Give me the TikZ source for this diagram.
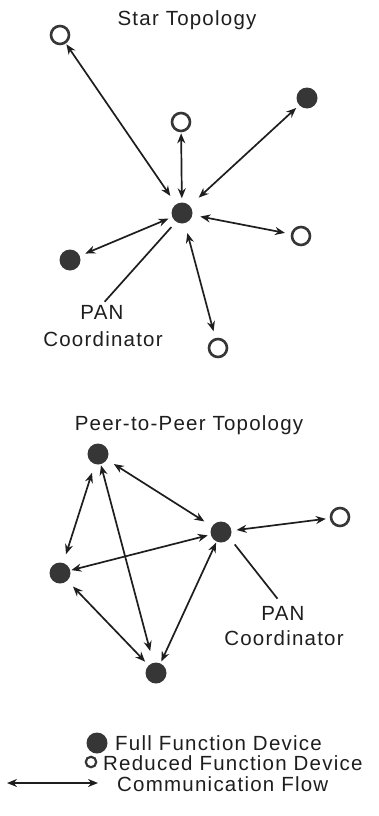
\documentclass[tikz,border=0pt]{standalone}
\usepackage{fontspec}
\setmainfont{Liberation Sans}[LetterSpace=6]
\usetikzlibrary{arrows.meta}
\definecolor{dev}{HTML}{363636}
\definecolor{ink}{HTML}{1E1E1E}
\begin{document}
\begin{tikzpicture}[x=1pt,y=-1pt,
  ffd/.style={circle,fill=dev,draw=none,minimum size=21pt,inner sep=0pt},
  rfd/.style={circle,draw=dev,line width=2.6pt,fill=white,minimum size=18pt,inner sep=0pt},
  flow/.style={{Stealth[length=10pt,width=8pt]}-{Stealth[length=10pt,width=8pt]},line width=1.7pt,draw=ink},
  lead/.style={line width=1.7pt,draw=ink},
  lbl/.style={font=\fontsize{20.5}{25}\selectfont,text=ink,inner sep=0pt}]
\useasboundingbox[fill=white] (0,0) rectangle (379,816);

% ---------- Star topology ----------
\node[lbl,anchor=base] (sttitle) at (187,26) {Star Topology};
\node[ffd] (sc) at (182,213) {};
\node[rfd] (stl) at (60,35) {};
\node[rfd] (stm) at (181,122) {};
\node[ffd] (str) at (307,98) {};
\node[rfd] (sr) at (301,236) {};
\node[ffd] (sl) at (70,260) {};
\node[rfd] (sb) at (218,348) {};

\draw[flow,shorten <=10pt,shorten >=1pt] (sc) -- (stl);
\draw[flow,shorten <=4pt,shorten >=1pt] (sc) -- (stm);
\draw[flow,shorten <=12pt,shorten >=4pt] (sc) -- (str);
\draw[flow,shorten <=8pt,shorten >=6pt] (sc) -- (sr);
\draw[flow,shorten <=4pt,shorten >=6pt] (sc) -- (sl);
\draw[flow,shorten <=10pt,shorten >=7pt] (sc) -- (sb);

\node[lbl,anchor=base] (stpan) at (102,319) {PAN};
\node[lbl,anchor=base] (stcoord) at (103,346) {Coordinator};
\draw[lead,shorten <=7pt,shorten >=4pt] (sc.236) -- (stpan.north);

% ---------- Peer-to-peer topology ----------
\node[lbl,anchor=base] (pptitle) at (189,430) {Peer-to-Peer Topology};
\node[ffd] (pa) at (98,454) {};
\node[ffd] (pb) at (221,532) {};
\node[ffd] (pc) at (60,573) {};
\node[ffd] (pd) at (156,673) {};
\node[rfd] (pe) at (340,517) {};

\draw[flow,shorten <=8pt,shorten >=9pt] (pa) -- (pb);
\draw[flow,shorten <=9pt,shorten >=9pt] (pa) -- (pc);
\draw[flow,shorten <=1pt,shorten >=12pt] (pa) -- (pd);
\draw[flow,shorten <=3pt,shorten >=1pt] (pb) -- (pc);
\draw[flow,shorten <=1pt,shorten >=2pt] (pb) -- (pd);
\draw[flow,shorten <=8pt,shorten >=5pt] (pc) -- (pd);
\draw[flow,shorten <=5pt,shorten >=4pt] (pb) -- (pe);

\node[lbl,anchor=base] (pppan) at (283,620) {PAN};
\node[lbl,anchor=base] (ppcoord) at (284,645) {Coordinator};
\draw[lead,shorten <=8pt,shorten >=9pt] (pb.325) -- (pppan.north);

% ---------- Legend ----------
\node[ffd] (lgf) at (97,743) {};
\node[lbl,anchor=base west] (lgft) at (115,750) {Full Function Device};
\node[circle,draw=dev,line width=2.2pt,fill=white,minimum size=10.5pt,inner sep=0pt] (lgr) at (91,762) {};
\node[lbl,anchor=base west] (lgrt) at (103,770) {Reduced Function Device};
\coordinate (lga) at (7,783);
\coordinate (lgb) at (98,783);
\draw[flow] (lga) -- (lgb);
\node[lbl,anchor=base west] (lgct) at (117,791) {Communication Flow};
\end{tikzpicture}
\end{document}
